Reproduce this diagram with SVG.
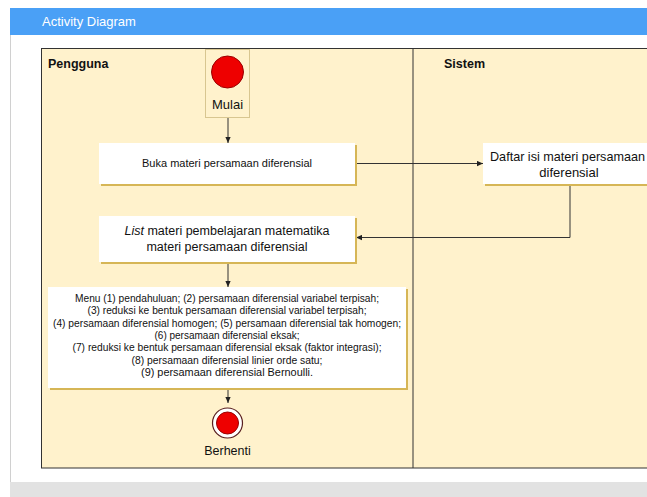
<svg xmlns="http://www.w3.org/2000/svg" width="647" height="497" viewBox="0 0 647 497">
<defs>
<style>
text{font-family:"Liberation Sans",Arial,sans-serif;fill:#111}
.lane{fill:#fff2cc;stroke:#333;stroke-width:1}
.box{fill:#fff}
.sh{fill:#d6b656}
.conn{fill:none;stroke:#333;stroke-width:1}
.c{text-anchor:middle}
.b{font-weight:bold;font-size:12.5px}
</style>
<marker id="arr" viewBox="0 0 8 8" refX="8" refY="4" markerWidth="6" markerHeight="6" orient="auto" markerUnits="userSpaceOnUse">
<path d="M0,0.5 L8,4 L0,7.5 Z" fill="#222"/>
</marker>
</defs>
<rect x="0" y="0" width="647" height="497" fill="#fff"/>
<g id="frame">
<rect x="10" y="8" width="637" height="27" fill="#4aa0f6"/>
<line x1="10.5" y1="35" x2="10.5" y2="482" stroke="#d0d0d0"/>
<rect x="10" y="482" width="637" height="15" fill="#e2e2e2"/>
<text x="42" y="26" font-size="13" style="fill:#fff">Activity Diagram</text>
</g>
<g id="swimlanes">
<rect class="lane" x="41.5" y="48.5" width="620" height="419.5"/>
<line x1="413" y1="48.5" x2="413" y2="468" stroke="#333"/>
<text class="b" x="48" y="68">Pengguna</text>
<text class="b" x="444" y="68">Sistem</text>
</g>
<g id="connectors">
<line class="conn" x1="228" y1="118" x2="228" y2="143" marker-end="url(#arr)"/>
<line class="conn" x1="356" y1="163.5" x2="483" y2="163.5" marker-end="url(#arr)"/>
<polyline class="conn" points="570,185 570,237.5 356,237.5" marker-end="url(#arr)"/>
<line class="conn" x1="228" y1="263" x2="228" y2="287" marker-end="url(#arr)"/>
<line class="conn" x1="228" y1="389" x2="228" y2="403" marker-end="url(#arr)"/>
</g>
<g id="mulai">
<rect x="205.5" y="49.5" width="44" height="68" fill="#fff2cc" stroke="#d8c690"/>
<circle cx="227.5" cy="72" r="16" fill="#e00" stroke="#9a0000"/>
<text class="c" x="227.5" y="109" font-size="13">Mulai</text>
</g>
<g id="buka">
<rect class="sh" x="101" y="145" width="256" height="41"/>
<rect class="box" x="99" y="143" width="256" height="41"/>
<text class="c" x="227" y="167" font-size="11">Buka materi persamaan diferensial</text>
</g>
<g id="daftar">
<rect class="sh" x="485" y="145" width="170" height="41"/>
<rect class="box" x="483" y="143" width="170" height="41"/>
<text x="490" y="161" font-size="13" textLength="155" lengthAdjust="spacingAndGlyphs">Daftar isi materi persamaan</text>
<text class="c" x="569" y="177" font-size="13">diferensial</text>
</g>
<g id="list">
<rect class="sh" x="101" y="218" width="256" height="46"/>
<rect class="box" x="99" y="216" width="256" height="46"/>
<text class="c" x="227" y="235" font-size="12.5"><tspan font-style="italic">List</tspan> materi pembelajaran matematika</text>
<text class="c" x="227" y="251" font-size="12.5">materi persamaan diferensial</text>
</g>
<g id="menu">
<rect class="sh" x="50" y="289" width="358" height="101"/>
<rect class="box" x="48" y="287" width="358" height="101"/>
<g font-size="10.5">
<text class="c" x="227" y="302" textLength="304" lengthAdjust="spacingAndGlyphs">Menu (1) pendahuluan; (2) persamaan diferensial variabel terpisah;</text>
<text class="c" x="227" y="314" textLength="279" lengthAdjust="spacingAndGlyphs">(3) reduksi ke bentuk persamaan diferensial variabel terpisah;</text>
<text class="c" x="227" y="327" textLength="348" lengthAdjust="spacingAndGlyphs">(4) persamaan diferensial homogen; (5) persamaan diferensial tak homogen;</text>
<text class="c" x="227" y="339" textLength="145" lengthAdjust="spacingAndGlyphs">(6) persamaan diferensial eksak;</text>
<text class="c" x="227" y="351" textLength="309" lengthAdjust="spacingAndGlyphs">(7) reduksi ke bentuk persamaan diferensial eksak (faktor integrasi);</text>
<text class="c" x="227" y="364" textLength="191" lengthAdjust="spacingAndGlyphs">(8) persamaan diferensial linier orde satu;</text>
<text class="c" x="227" y="376" textLength="172" lengthAdjust="spacingAndGlyphs">(9)  persamaan diferensial Bernoulli.</text>
</g>
</g>
<g id="berhenti">
<circle cx="227.5" cy="423" r="15" fill="#fff" stroke="#5a2020" stroke-width="1.2"/>
<circle cx="227.5" cy="423" r="11" fill="#e00" stroke="#9a0000"/>
<text class="c" x="227.5" y="455" font-size="12.5">Berhenti</text>
</g>
</svg>
